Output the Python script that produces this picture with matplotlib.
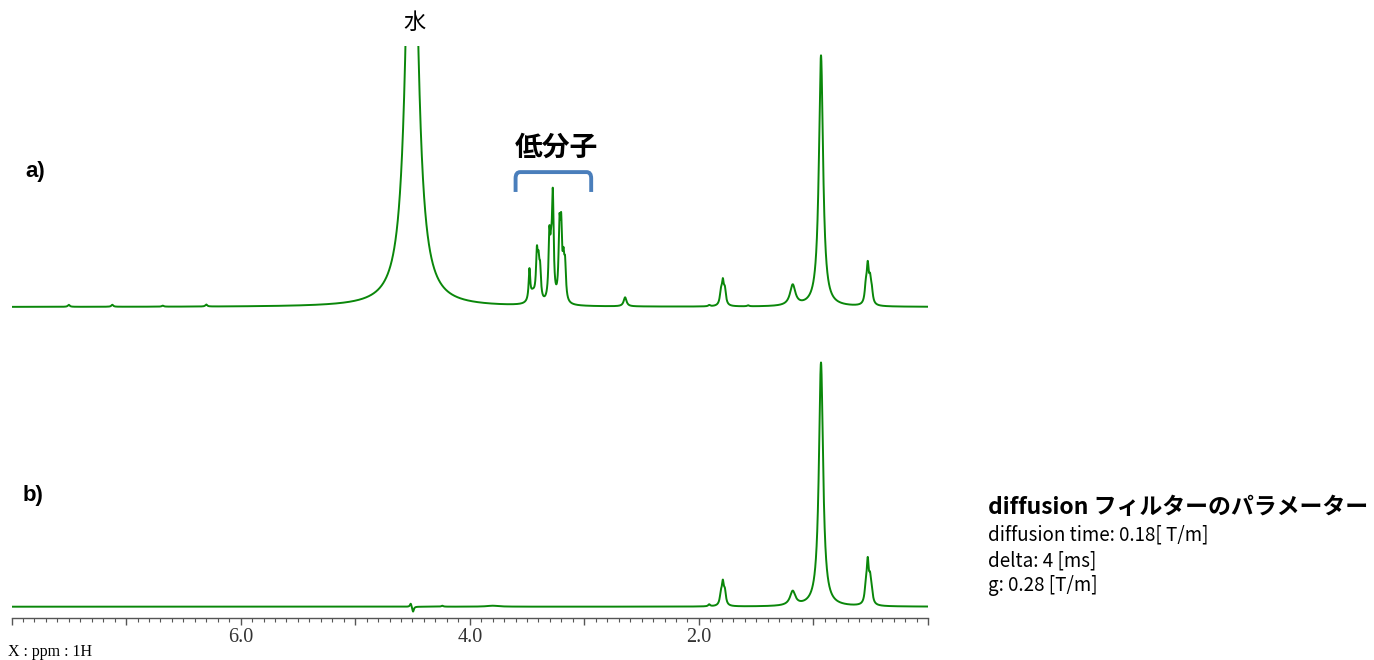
import numpy as np
import matplotlib
matplotlib.use('Agg')
import matplotlib.pyplot as plt
from matplotlib.path import Path
from matplotlib.patches import PathPatch
from matplotlib.ticker import FixedLocator, MultipleLocator, FuncFormatter

plt.rcParams['font.family'] = ['Noto Sans CJK JP', 'DejaVu Sans']

#### peak lists: position [ppm], height [% of 0.93 ppm peak], half width [ppm] ####
# a) normal 1H spectrum
a_pos = [4.505, 7.50, 7.12, 6.68, 6.30,
         3.479, 3.45, 3.414, 3.400, 3.386, 3.305, 3.290, 3.275,
         3.217, 3.202, 3.182, 3.168, 2.644,
         1.91, 1.808, 1.791, 1.773, 1.57, 1.181, 0.934,
         0.543, 0.526, 0.506, 0.491]
a_height = [221.0, 0.8, 0.8, 0.4, 0.8,
            12.0, 4.0, 17.0, 12.0, 11.0, 24.0, 13.0, 40.0,
            27.0, 26.0, 13.0, 13.0, 3.6,
            0.5, 4.5, 8.5, 5.5, 0.4, 8.2, 100.0,
            6.0, 14.0, 8.0, 4.5]
a_width = [0.053, 0.01, 0.01, 0.01, 0.01,
           0.008, 0.03, 0.009, 0.009, 0.009, 0.009, 0.009, 0.009,
           0.009, 0.009, 0.009, 0.009, 0.015,
           0.01, 0.011, 0.011, 0.011, 0.01, 0.028, 0.022,
           0.011, 0.011, 0.011, 0.011]

# b) diffusion filtered spectrum
b_pos = [4.515, 4.495, 4.24, 3.80, 1.91,
         1.808, 1.791, 1.773, 1.181, 0.934,
         0.543, 0.526, 0.506, 0.491]
b_height = [1.5, -2.2, 0.4, 0.4, 0.8,
            4.0, 8.5, 5.0, 5.8, 100.0,
            6.0, 16.0, 8.5, 4.0]
b_width = [0.008, 0.008, 0.01, 0.06, 0.01,
           0.011, 0.011, 0.011, 0.028, 0.022,
           0.011, 0.011, 0.011, 0.011]

param_title = 'diffusion フィルターのパラメーター'
param_lines = ['diffusion time: 0.18[ T/m]', 'delta: 4 [ms]', 'g: 0.28 [T/m]']

green = '#0a870a'
ppm = np.linspace(8.0, 0.0, 16001)


def spectrum(pos, height, width):
    y = np.zeros_like(ppm)
    for p, h, w in zip(pos, height, width):
        y += h / (1 + ((ppm - p) / w) ** 2)
    return y


W, H = 1374, 660
fig = plt.figure(figsize=(W / 100, H / 100), dpi=100)


def px_axes(x0, y0, x1, y1):
    return fig.add_axes([x0 / W, 1 - y1 / H, (x1 - x0) / W, (y1 - y0) / H])


ax_a = px_axes(11.5, 46, 928, 314)
ax_b = px_axes(11.5, 350, 928, 618)

ax_a.plot(ppm, spectrum(a_pos, a_height, a_width), color=green, lw=1.4)
ax_b.plot(ppm, spectrum(b_pos, b_height, b_width), color=green, lw=1.4)

ax_a.set_ylim(-2.79, 103.9)
ax_b.set_ylim(-4.63, 105.2)

for ax in (ax_a, ax_b):
    ax.set_xlim(8.0, 0.0)
    for s in ax.spines.values():
        s.set_visible(False)
    ax.set_yticks([])
    ax.patch.set_alpha(0)

ax_a.set_xticks([])

ax_b.spines['bottom'].set_visible(True)
ax_b.spines['bottom'].set_color('#555555')
ax_b.spines['bottom'].set_linewidth(1.0)
ax_b.xaxis.set_major_locator(FixedLocator(np.arange(0, 9, 1.0)))
ax_b.xaxis.set_minor_locator(MultipleLocator(0.1))
ax_b.xaxis.set_major_formatter(FuncFormatter(
    lambda v, _: '%.1f' % v if (round(v) % 2 == 0 and 0 < v < 8) else ''))
ax_b.tick_params(axis='x', which='major', direction='out', length=5, width=1.0,
                 color='#555555', pad=2, labelsize=14.5, labelcolor='#333333',
                 labelfontfamily='Liberation Serif')
ax_b.tick_params(axis='x', which='minor', direction='out', length=3, width=0.8,
                 color='#555555')

# bracket over the low molecular weight region
x0, x1 = 3.60, 2.94
ytop, ybot = 53.7, 45.8
r = 0.04
verts = [(x0, ybot), (x0, ytop - 2.5), (x0, ytop), (x0 - r, ytop),
         (x1 + r, ytop), (x1, ytop), (x1, ytop - 2.5), (x1, ybot)]
codes = [Path.MOVETO, Path.LINETO, Path.CURVE3, Path.CURVE3,
         Path.LINETO, Path.CURVE3, Path.CURVE3, Path.LINETO]
ax_a.add_patch(PathPatch(Path(verts, codes), fill=False, edgecolor='#4a7ebb',
                         lw=2.8, capstyle='butt', clip_on=False))

fig.text(414 / W, 1 - 22 / H, '水', fontsize=16, ha='center', va='center')
fig.text(556 / W, 1 - 148 / H, '低分子', fontsize=20, fontweight='bold',
         ha='center', va='center')
fig.text(25 / W, 1 - 172 / H, 'a)', fontsize=16, fontweight='bold',
         ha='left', va='center', family='Liberation Sans')
fig.text(23 / W, 1 - 495 / H, 'b)', fontsize=16, fontweight='bold',
         ha='left', va='center', family='Liberation Sans')
fig.text(8 / W, 1 - 652 / H, 'X : ppm : 1H', fontsize=11.5,
         ha='left', va='center', family='Liberation Serif')

fig.text(988 / W, 1 - 507 / H, param_title, fontsize=16.5, fontweight='bold',
         ha='left', va='center')
for i, line in enumerate(param_lines):
    fig.text(988 / W, 1 - (535 + 25.5 * i) / H, line, fontsize=13.5,
             ha='left', va='center')

fig.savefig('out.png', dpi=100)
